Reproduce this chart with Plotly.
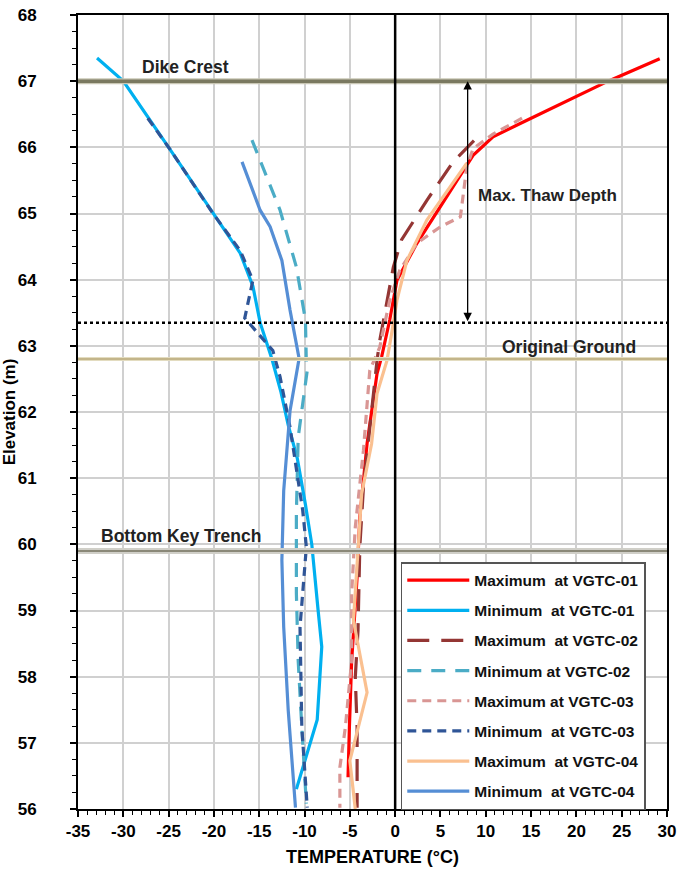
import plotly.graph_objects as go

# ---- data (temperature °C, elevation m) ----
max01_T = [29.2, 23.5, 13.8, 10.8, 8.6, 5.0, 2.4, 0.2, -0.6, -1.5, -2.0, -3.1, -3.9, -4.2, -4.8, -5.05, -5.2]
max01_E = [67.34, 67.0, 66.36, 66.16, 65.88, 65.1, 64.55, 63.99, 63.39, 62.83, 62.58, 61.52, 60.41, 59.5, 58.24, 57.23, 56.48]

min01_T = [-32.9, -30.0, -25.0, -20.1, -17.1, -15.7, -14.9, -13.6, -12.6, -11.8, -10.8, -9.9, -9.2, -8.5, -8.1, -8.6, -10.9]
min01_E = [67.35, 67.0, 66.0, 65.0, 64.4, 63.9, 63.35, 62.8, 62.3, 61.8, 61.3, 60.6, 60.0, 59.0, 58.45, 57.35, 56.3]

max02_T = [8.7, 6.4, 3.5, 0.7, -0.2, -0.9, -1.7, -2.0, -3.5, -3.9, -4.1, -4.4, -4.2, -4.2]
max02_E = [66.1, 65.78, 65.2, 64.6, 64.19, 63.69, 63.08, 62.78, 60.86, 59.96, 58.7, 57.99, 57.23, 56.02]

min02_T = [-15.8, -12.7, -10.9, -9.9, -9.8, -9.7, -10.7, -10.9, -10.9, -10.7, -10.3, -9.8]
min02_E = [66.11, 65.05, 64.19, 63.39, 62.73, 62.63, 61.62, 60.47, 59.26, 58.24, 57.23, 56.08]

max03_T = [14.0, 10.8, 8.6, 7.9, 7.2, 5.0, 2.4, 0.5, -0.6, -1.7, -2.8, -3.5, -4.4, -4.8, -4.8, -5.5, -6.1, -6.1]
max03_E = [66.44, 66.2, 65.98, 65.7, 64.95, 64.8, 64.55, 64.14, 63.69, 62.98, 62.63, 61.42, 60.26, 59.26, 58.24, 57.23, 56.63, 56.02]

min03_T = [-27.3, -25.0, -20.1, -17.1, -15.7, -16.6, -13.5, -12.7, -11.6, -10.2, -9.8, -10.5, -10.3, -9.7]
min03_E = [66.44, 66.0, 65.0, 64.44, 63.99, 63.42, 62.93, 62.53, 61.77, 60.51, 59.96, 58.75, 57.23, 56.02]

max04_T = [7.9, 6.1, 3.5, 1.3, 0.2, -0.4, -0.9, -2.0, -2.6, -3.7, -4.2, -4.6, -3.1, -5.0, -4.4]
max04_E = [65.76, 65.4, 64.9, 64.29, 63.69, 63.18, 62.78, 62.28, 61.52, 60.76, 59.75, 58.85, 57.76, 56.73, 56.0]

min04_T = [-16.9, -14.9, -13.8, -12.5, -11.6, -10.6, -11.6, -12.3, -12.5, -12.3, -11.8, -11.0]
min04_E = [65.78, 65.05, 64.8, 64.29, 63.54, 62.81, 62.02, 60.81, 59.76, 58.75, 57.49, 56.02]

x_ticks = list(range(-35, 31, 5))
y_ticks = list(range(56, 69, 1))

dike_crest = 67.0
original_ground = 62.8
bottom_key_trench = 59.9
thaw_depth = 63.35
arrow_T = 8.0

series = [
    ("Maximum\u00a0 at VGTC-01", max01_T, max01_E, "#ff0000", "solid"),
    ("Minimum\u00a0 at VGTC-01", min01_T, min01_E, "#00b0f0", "solid"),
    ("Maximum\u00a0 at VGTC-02", max02_T, max02_E, "#943634", "22px,12px"),
    ("Minimum at VGTC-02", min02_T, min02_E, "#4bacc6", "14px,10px"),
    ("Maximum at VGTC-03", max03_T, max03_E, "#d99694", "9px,6px"),
    ("Minimum\u00a0 at VGTC-03", min03_T, min03_E, "#2f5597", "9px,6px"),
    ("Maximum\u00a0 at VGTC-04", max04_T, max04_E, "#fac090", "solid"),
    ("Minimum\u00a0 at VGTC-04", min04_T, min04_E, "#558ed5", "solid"),
]

fig = go.Figure()
for i, (name, T, E, col, dash) in enumerate(series):
    fig.add_trace(go.Scatter(x=T, y=E, mode="lines", name=name, legendgroup=str(i),
                             line=dict(color=col, width=3.2, dash=dash)))

FONT = "Arial, Liberation Sans, sans-serif"

shapes = []
shapes.append(dict(type="line", xref="paper", x0=0, x1=1, yref="y", y0=dike_crest, y1=dike_crest,
                   line=dict(color="#c9c7b4", width=6), layer="above"))
shapes.append(dict(type="line", xref="paper", x0=0, x1=1, yref="y", y0=dike_crest, y1=dike_crest,
                   line=dict(color="#7a7960", width=3.5), layer="above"))
shapes.append(dict(type="line", xref="paper", x0=0, x1=1, yref="y", y0=original_ground, y1=original_ground,
                   line=dict(color="#e3dcc0", width=4), layer="above"))
shapes.append(dict(type="line", xref="paper", x0=0, x1=1, yref="y", y0=original_ground, y1=original_ground,
                   line=dict(color="#b8a878", width=1.5), layer="above"))
shapes.append(dict(type="line", xref="paper", x0=0, x1=1, yref="y", y0=bottom_key_trench, y1=bottom_key_trench,
                   line=dict(color="#d0cfc8", width=6), layer="above"))
shapes.append(dict(type="line", xref="paper", x0=0, x1=1, yref="y", y0=bottom_key_trench, y1=bottom_key_trench,
                   line=dict(color="#8a8878", width=2), layer="above"))
shapes.append(dict(type="line", xref="paper", x0=0, x1=1, yref="y", y0=thaw_depth, y1=thaw_depth,
                   line=dict(color="black", width=2.5, dash="dot"), layer="above"))
shapes.append(dict(type="line", xref="x", x0=0, x1=0, yref="paper", y0=0, y1=1,
                   line=dict(color="black", width=2.5), layer="above"))

LBL = 17.5
annotations = [
    dict(x=arrow_T, y=dike_crest, ax=arrow_T, ay=thaw_depth, xref="x", yref="y", axref="x", ayref="y",
         text="", showarrow=True, arrowhead=2, startarrowhead=2, arrowside="end+start",
         arrowsize=1.3, arrowwidth=1.3, arrowcolor="black"),
    dict(x=-28.2, y=67.22, xref="x", yref="y", text="<b>Dike Crest</b>", showarrow=False,
         xanchor="left", font=dict(family=FONT, size=LBL, color="#222")),
    dict(x=8.9, y=65.27, xref="x", yref="y", text="<b>Max. Thaw Depth</b>", showarrow=False,
         xanchor="left", font=dict(family=FONT, size=17, color="#222")),
    dict(x=11.6, y=62.98, xref="x", yref="y", text="<b>Original Ground</b>", showarrow=False,
         xanchor="left", font=dict(family=FONT, size=LBL, color="#222")),
    dict(x=-32.7, y=60.13, xref="x", yref="y", text="<b>Bottom Key Trench</b>", showarrow=False,
         xanchor="left", font=dict(family=FONT, size=LBL, color="#222")),
]

fig.update_layout(
    width=679, height=876,
    margin=dict(l=78, r=12, t=15, b=67),
    paper_bgcolor="white", plot_bgcolor="white",
    font=dict(family=FONT, color="black"),
    shapes=shapes, annotations=annotations,
    legend=dict(x=0.548, y=0.311, xanchor="left", yanchor="top",
                bgcolor="white", bordercolor="#555", borderwidth=1.5,
                font=dict(family=FONT, size=15.5, color="#111", weight="bold"),
                tracegroupgap=7, itemwidth=62),
    showlegend=True,
)

fig.update_xaxes(range=[-35, 30], tickvals=x_ticks, ticktext=[f"<b>{v}</b>" for v in x_ticks],
                 showgrid=True, gridcolor="#d0d0d0", gridwidth=1.5, zeroline=False,
                 showline=True, linecolor="black", linewidth=2, mirror=True,
                 ticks="outside", ticklen=6, tickwidth=1.5, tickcolor="black",
                 minor=dict(dtick=1, ticks="outside", ticklen=4, tickcolor="black", tickwidth=1, showgrid=False),
                 tickfont=dict(family=FONT, size=17, color="black"), automargin=False,
                 title=dict(text="<b>TEMPERATURE (°C)</b>", font=dict(family=FONT, size=18, color="black"), standoff=10))
fig.update_yaxes(range=[56, 68], tickvals=y_ticks, ticktext=[f"<b>{v}</b>" for v in y_ticks],
                 showgrid=True, gridcolor="#d0d0d0", gridwidth=1.5, zeroline=False,
                 showline=True, linecolor="black", linewidth=2, mirror=True,
                 ticks="outside", ticklen=6, tickwidth=1.5, tickcolor="black",
                 minor=dict(dtick=0.25, ticks="outside", ticklen=4, tickcolor="black", tickwidth=1, showgrid=False),
                 tickfont=dict(family=FONT, size=17, color="black"), ticklabelstandoff=30, automargin=False,
                 title=dict(text="<b>Elevation (m)</b>", font=dict(family=FONT, size=17, color="black"), standoff=2))

fig.write_html("out.html")
